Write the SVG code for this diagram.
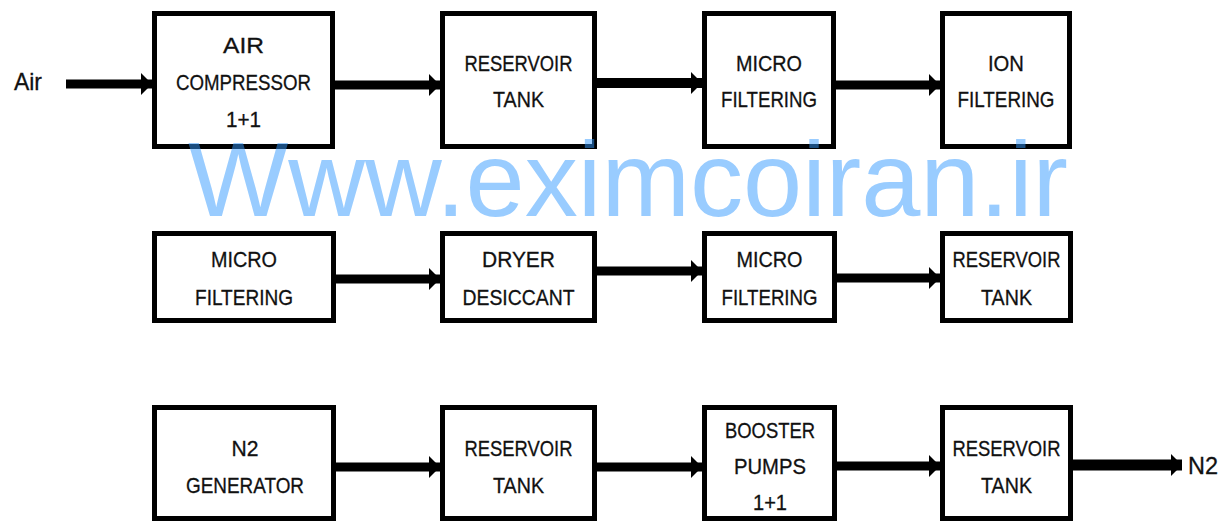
<svg xmlns="http://www.w3.org/2000/svg" width="1222" height="521" viewBox="0 0 1222 521">
<style>
.box{fill:#fff;stroke:#000;stroke-width:5}
.t{font-family:"Liberation Sans",Arial,sans-serif;font-size:22px;fill:#111;stroke:#111;stroke-width:0.3;text-anchor:middle}
.lbl{font-family:"Liberation Sans",Arial,sans-serif;font-size:24px;fill:#111;stroke:#111;stroke-width:0.3}
.c{stroke:#000;stroke-width:9;fill:none}
.wm{font-family:"Liberation Sans",Arial,sans-serif;font-size:106px;fill:#3399ff;fill-opacity:0.5}
</style>
<defs>
<marker id="ah" markerUnits="userSpaceOnUse" markerWidth="12" markerHeight="22" viewBox="0 0 12 22" refX="11" refY="11" orient="auto">
<path d="M0,0 L11,11 L0,22 Z" fill="#000"/>
</marker>
</defs>
<rect width="1222" height="521" fill="#fff"/>
<text class="lbl" x="14" y="90" textLength="28" lengthAdjust="spacingAndGlyphs">Air</text>
<text class="lbl" x="1188" y="474" textLength="30" lengthAdjust="spacingAndGlyphs">N2</text>
<g id="connectors">
<line class="c" x1="66" y1="84" x2="152" y2="84" marker-end="url(#ah)"/>
<line class="c" x1="335" y1="85" x2="440" y2="85" marker-end="url(#ah)"/>
<line class="c" x1="597" y1="83" x2="702" y2="83" style="stroke-width:10" marker-end="url(#ah)"/>
<line class="c" x1="836" y1="85" x2="940" y2="85" marker-end="url(#ah)"/>
<line class="c" x1="336" y1="279" x2="440" y2="279" marker-end="url(#ah)"/>
<line class="c" x1="597" y1="271" x2="702" y2="271" marker-end="url(#ah)"/>
<line class="c" x1="837" y1="278" x2="940" y2="278" marker-end="url(#ah)"/>
<line class="c" x1="336" y1="467" x2="440" y2="467" marker-end="url(#ah)"/>
<line class="c" x1="597" y1="467" x2="702" y2="467" marker-end="url(#ah)"/>
<line class="c" x1="837" y1="466" x2="940" y2="466" marker-end="url(#ah)"/>
<line class="c" x1="1073" y1="465" x2="1182" y2="465" style="stroke-width:11" marker-end="url(#ah)"/>
</g>
<g id="air-compressor">
<rect class="box" x="154.5" y="13.5" width="178" height="133"/>
<text class="t" x="243.5" y="53" textLength="41" lengthAdjust="spacingAndGlyphs">AIR</text>
<text class="t" x="243.5" y="90" textLength="135" lengthAdjust="spacingAndGlyphs">COMPRESSOR</text>
<text class="t" x="243.5" y="127" textLength="35" lengthAdjust="spacingAndGlyphs">1+1</text>
</g>
<g id="reservoir-tank-1">
<rect class="box" x="442.5" y="13.5" width="152" height="133"/>
<text class="t" x="518.5" y="71" textLength="108" lengthAdjust="spacingAndGlyphs">RESERVOIR</text>
<text class="t" x="518.5" y="107" textLength="51" lengthAdjust="spacingAndGlyphs">TANK</text>
</g>
<g id="micro-filtering-1">
<rect class="box" x="704.5" y="13.5" width="129" height="133"/>
<text class="t" x="769" y="71" textLength="66" lengthAdjust="spacingAndGlyphs">MICRO</text>
<text class="t" x="769" y="107" textLength="96" lengthAdjust="spacingAndGlyphs">FILTERING</text>
</g>
<g id="ion-filtering">
<rect class="box" x="942.5" y="13.5" width="127" height="133"/>
<text class="t" x="1006" y="71" textLength="36" lengthAdjust="spacingAndGlyphs">ION</text>
<text class="t" x="1006" y="107" textLength="97" lengthAdjust="spacingAndGlyphs">FILTERING</text>
</g>
<g id="micro-filtering-2">
<rect class="box" x="154.5" y="233.5" width="179" height="87"/>
<text class="t" x="244" y="267" textLength="66" lengthAdjust="spacingAndGlyphs">MICRO</text>
<text class="t" x="244" y="305" textLength="98" lengthAdjust="spacingAndGlyphs">FILTERING</text>
</g>
<g id="dryer-desiccant">
<rect class="box" x="442.5" y="233.5" width="152" height="87"/>
<text class="t" x="518.5" y="267" textLength="73" lengthAdjust="spacingAndGlyphs">DRYER</text>
<text class="t" x="518.5" y="305" textLength="112" lengthAdjust="spacingAndGlyphs">DESICCANT</text>
</g>
<g id="micro-filtering-3">
<rect class="box" x="704.5" y="233.5" width="130" height="87"/>
<text class="t" x="769.5" y="267" textLength="66" lengthAdjust="spacingAndGlyphs">MICRO</text>
<text class="t" x="769.5" y="305" textLength="96" lengthAdjust="spacingAndGlyphs">FILTERING</text>
</g>
<g id="reservoir-tank-2">
<rect class="box" x="942.5" y="233.5" width="128" height="87"/>
<text class="t" x="1006.5" y="267" textLength="108" lengthAdjust="spacingAndGlyphs">RESERVOIR</text>
<text class="t" x="1006.5" y="305" textLength="51" lengthAdjust="spacingAndGlyphs">TANK</text>
</g>
<g id="n2-generator">
<rect class="box" x="154.5" y="407.5" width="179" height="111"/>
<text class="t" x="245" y="456" textLength="27" lengthAdjust="spacingAndGlyphs">N2</text>
<text class="t" x="245" y="493" textLength="118" lengthAdjust="spacingAndGlyphs">GENERATOR</text>
</g>
<g id="reservoir-tank-3">
<rect class="box" x="442.5" y="407.5" width="152" height="111"/>
<text class="t" x="518.5" y="456" textLength="108" lengthAdjust="spacingAndGlyphs">RESERVOIR</text>
<text class="t" x="518.5" y="493" textLength="51" lengthAdjust="spacingAndGlyphs">TANK</text>
</g>
<g id="booster-pumps">
<rect class="box" x="704.5" y="407.5" width="130" height="111"/>
<text class="t" x="770" y="438" textLength="90" lengthAdjust="spacingAndGlyphs">BOOSTER</text>
<text class="t" x="770" y="474" textLength="72" lengthAdjust="spacingAndGlyphs">PUMPS</text>
<text class="t" x="770" y="510" textLength="34" lengthAdjust="spacingAndGlyphs">1+1</text>
</g>
<g id="reservoir-tank-4">
<rect class="box" x="942.5" y="407.5" width="128" height="111"/>
<text class="t" x="1006.5" y="456" textLength="108" lengthAdjust="spacingAndGlyphs">RESERVOIR</text>
<text class="t" x="1006.5" y="493" textLength="51" lengthAdjust="spacingAndGlyphs">TANK</text>
</g>
<text class="wm" x="188" y="216" textLength="880" lengthAdjust="spacingAndGlyphs">Www.eximcoiran.ir</text>
</svg>
